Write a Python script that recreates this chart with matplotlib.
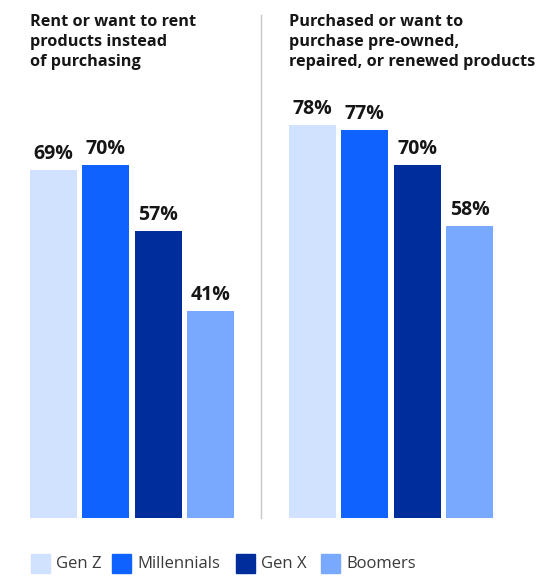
import matplotlib
matplotlib.use("Agg")
import matplotlib.pyplot as plt
from matplotlib.patches import Rectangle

plt.rcParams['font.family'] = ['Open Sans', 'DejaVu Sans']

groups = ['Gen Z', 'Millennials', 'Gen X', 'Boomers']
colors = ['#d0e2ff', '#0f62fe', '#002d9c', '#78a9ff']
rent_vals = [69, 70, 57, 41]
preowned_vals = [78, 77, 70, 58]
titles = ['Rent or want to rent\nproducts instead\nof purchasing',
          'Purchased or want to\npurchase pre-owned,\nrepaired, or renewed products']

W, H = 552, 576
fig = plt.figure(figsize=(W / 100, H / 100), dpi=100)

def px_axes(x0, x1, y_top, y_bot):
    return fig.add_axes([x0 / W, 1 - y_bot / H, (x1 - x0) / W, (y_bot - y_top) / H])

panels = [(30, 234, rent_vals, titles[0]), (289, 493, preowned_vals, titles[1])]
for x0, x1, vals, title in panels:
    ax = px_axes(x0, x1, 14, 518)
    xs = range(len(vals))
    ax.bar(xs, vals, width=0.895, color=colors)
    for x, v in zip(xs, vals):
        ax.text(x, v + 2.2, f'{v}%', ha='center', va='baseline',
                fontsize=14, fontweight='bold', color='#161616')
    ax.set_xlim(-0.45, 3.45)
    ax.set_ylim(0, 100)
    ax.axis('off')
    fig.text(x0 / W, 1 - 14.5 / H, title, ha='left', va='top', fontsize=11.7,
             fontweight='bold', color='#161616', linespacing=1.33)

# divider
fig.add_artist(plt.Line2D([261 / W, 261 / W], [1 - 15 / H, 1 - 518 / H],
                          color='#c6c6c6', lw=1))

# legend
leg_x = [31, 112, 236, 321]
for lx, name, c in zip(leg_x, groups, colors):
    fig.add_artist(Rectangle((lx / W, 1 - 573 / H), 19 / W, 19 / H,
                             transform=fig.transFigure, color=c))
    fig.text((lx + 25) / W, 1 - 563.5 / H, name, ha='left', va='center',
             fontsize=12, color='#393939')

fig.savefig('out.png', dpi=100)
